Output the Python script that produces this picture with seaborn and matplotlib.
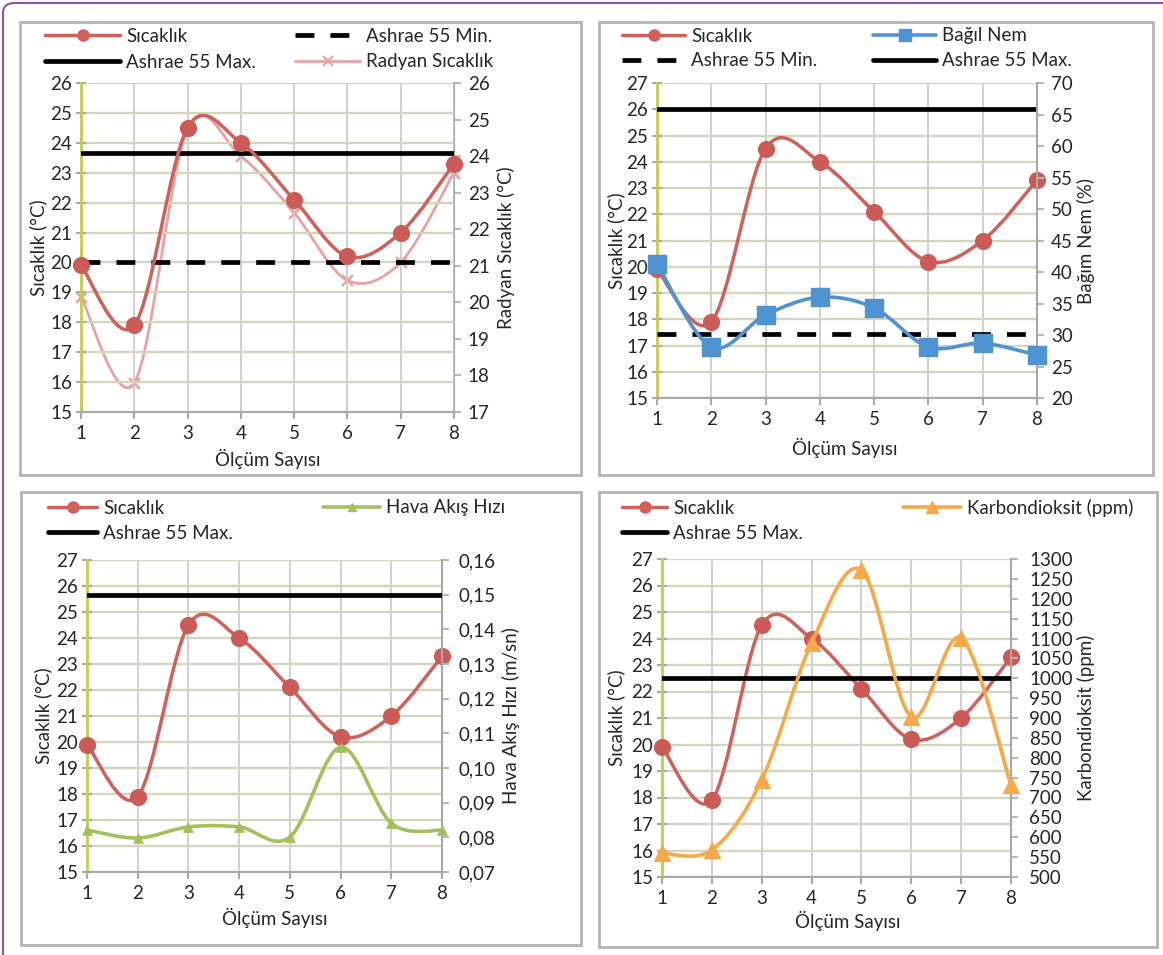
import numpy as np
import matplotlib.pyplot as plt
import seaborn as sns
from matplotlib.path import Path
from matplotlib.patches import PathPatch, FancyBboxPatch, Rectangle
from matplotlib.lines import Line2D
from matplotlib.legend import Legend
from matplotlib.ticker import FuncFormatter

# Data
olcum = [1, 2, 3, 4, 5, 6, 7, 8]
sicaklik = [19.9, 17.9, 24.5, 24.0, 22.1, 20.2, 21.0, 23.3]
radyan = [20.15, 17.8, 24.75, 24.0, 22.45, 20.6, 21.1, 23.55]
bagil_nem = [41.3, 28.1, 33.2, 36.0, 34.3, 28.1, 28.7, 26.8]
hava_akis = [0.0821, 0.0798, 0.0830, 0.0830, 0.0801, 0.1060, 0.0841, 0.0820]
co2 = [560, 568, 744, 1089, 1272, 903, 1101, 731]

# Ashrae 55 limits (as drawn)
p1_min, p1_max = 20.0, 23.65
p2_min, p2_max = 17.45, 26.0
p3_max = 0.15
p4_max = 1000

RED = '#d0605c'
PINK = '#e8a2a2'
BLUE = '#4f93d2'
GREEN = '#a3c05c'
ORANGE = '#f8a848'
FS = 13.5
FS_PX = FS * 100 / 72

sns.set_style('white')
plt.rcParams['font.family'] = ['Lato', 'DejaVu Sans']

W, H = 1163, 955
fig = plt.figure(figsize=(W / 100, H / 100), dpi=100)


def fx(px):
    return px / W


def fy(py):
    return 1 - py / H


def smooth(ax, x, y, color, lw, z=3):
    # Excel-like smoothed line through the data points
    pts = np.column_stack([np.asarray(x, float), np.asarray(y, float)])
    n = len(pts)
    verts, codes = [pts[0]], [Path.MOVETO]
    for i in range(n - 1):
        p0, p1 = pts[max(i - 1, 0)], pts[i]
        p2, p3 = pts[i + 1], pts[min(i + 2, n - 1)]
        verts += [p1 + (p2 - p0) / 6, p2 - (p3 - p1) / 6, p2]
        codes += [Path.CURVE4] * 3
    ax.add_patch(PathPatch(Path(verts, codes), fill=False, edgecolor=color,
                           lw=lw, zorder=z, capstyle='round', joinstyle='round'))


def make_axes(l, t, r, b):
    ax = fig.add_axes([fx(l), fy(b), fx(r - l), (b - t) / H])
    ax2 = ax.twinx()
    ax.set_facecolor('white')
    ax2.patch.set_visible(False)
    return ax, ax2


def style(ax, ax2, ylim, yticks, y2lim, y2ticks, y2label, lab):
    ax.set_xlim(1, 8)
    ax.set_xticks(olcum)
    ax.set_ylim(*ylim)
    ax.set_yticks(yticks)
    ax2.set_ylim(*y2lim)
    ax2.set_yticks(y2ticks)
    ax.grid(axis='x', color='#c8c8c8', lw=1.2)
    ax.grid(axis='y', color='#d2d6bc', lw=1.7)
    for s in ['top', 'right']:
        ax.spines[s].set_visible(False)
    for s in ['top', 'left', 'bottom']:
        ax2.spines[s].set_visible(False)
    ax.spines['left'].set_color('#c4cc4c')
    ax.spines['left'].set_linewidth(2)
    ax.spines['bottom'].set_color('#a8a8a8')
    ax.spines['bottom'].set_linewidth(1.5)
    ax2.spines['right'].set_color('#a8a8a8')
    ax2.spines['right'].set_linewidth(1.5)
    ax.tick_params(axis='y', direction='inout', length=7, width=1.5, color='#a8a8a8',
                   labelsize=FS, pad=3, left=True)
    ax.tick_params(axis='x', direction='out', length=5, width=1.5, color='#a8a8a8',
                   labelsize=FS, pad=4, bottom=True)
    ax2.tick_params(axis='y', direction='out', length=5, width=1.5, color='#b8b8b8',
                    labelsize=FS, pad=lab['rpad'], right=True)
    ax.set_xlabel('Ölçüm Sayısı', fontsize=FS)
    ax.set_ylabel('Sıcaklık (°C)', fontsize=FS)
    ax2.set_ylabel(y2label, fontsize=FS)
    ax.xaxis.set_label_coords(lab['x'][0], lab['x'][1])
    ax.yaxis.set_label_coords(lab['yl'], 0.5)
    ax2.yaxis.set_label_coords(lab['yr'], 0.5)


def entry(ax, handle, label, x_handle, x_text, y):
    pad = 0.3
    hl = (x_text - x_handle) / FS_PX - pad
    leg = Legend(ax, [handle], [label], loc='center left',
                 bbox_to_anchor=(fx(x_handle), fy(y)), bbox_transform=fig.transFigure,
                 frameon=False, borderpad=0, borderaxespad=0, handlelength=hl,
                 handletextpad=pad, fontsize=FS)
    ax.add_artist(leg)


def temp_line(ax):
    smooth(ax, olcum, sicaklik, RED, 2.5, z=4)
    sns.scatterplot(x=olcum, y=sicaklik, ax=ax, marker='o', s=130, color='#cc5a56',
                    edgecolor='#cc5a56', zorder=5, clip_on=False, legend=False)


def ashrae(ax, y, dashed=False):
    sns.lineplot(x=[olcum[0], olcum[-1]], y=[y, y], ax=ax, color='black', lw=3.4,
                 dashes=(4, 3.4) if dashed else '', zorder=3, legend=False)


h_temp = Line2D([], [], color=RED, lw=2.5, marker='o', markersize=8)
h_max = Line2D([], [], color='black', lw=3.4)
h_min = Line2D([], [], color='black', lw=3.4, dashes=(4, 3.4))
h_rad = Line2D([], [], color=PINK, lw=2, marker='x', markersize=7, mew=1.5)
h_nem = Line2D([], [], color=BLUE, lw=2.6, marker='s', markersize=9)
h_hava = Line2D([], [], color=GREEN, lw=2.6, marker='^', markersize=6)
h_co2 = Line2D([], [], color=ORANGE, lw=2.6, marker='^', markersize=8)

# ---------- Panel 1 ----------
ax, ax2 = make_axes(81, 83, 454, 412)
ashrae(ax, p1_min, dashed=True)
ashrae(ax, p1_max)
smooth(ax2, olcum, radyan, PINK, 2.0, z=3)
sns.scatterplot(x=olcum, y=radyan, ax=ax2, marker='x', s=60, color=PINK, linewidth=1.8,
                zorder=3, clip_on=False, legend=False)
temp_line(ax)
ax.set_zorder(ax2.get_zorder() + 1)
ax.patch.set_visible(False)
style(ax, ax2, (15, 26), range(15, 27), (17, 26), range(17, 27), 'Radyan Sıcaklık (°C)',
      dict(rpad=5, x=(0.5, -0.112), yl=-0.092, yr=1.115))
fig.patches.append(Rectangle((fx(81), fy(412)), fx(373), 329 / H, transform=fig.transFigure,
                             facecolor='white', edgecolor='none', zorder=-5))
entry(ax, h_temp, 'Sıcaklık', 45, 126, 36)
entry(ax, h_max, 'Ashrae 55 Max.', 45, 126, 62)
entry(ax, h_min, 'Ashrae 55 Min.', 295, 366, 36)
entry(ax, h_rad, 'Radyan Sıcaklık', 295, 366, 62)

# ---------- Panel 2 ----------
ax, ax2 = make_axes(657, 83, 1037, 398)
ashrae(ax, p2_min, dashed=True)
ashrae(ax, p2_max)
temp_line(ax)
smooth(ax2, olcum, bagil_nem, BLUE, 2.6, z=5)
sns.scatterplot(x=olcum, y=bagil_nem, ax=ax2, marker='s', s=160, color=BLUE, edgecolor=BLUE,
                zorder=6, clip_on=False, legend=False)
style(ax, ax2, (15, 27), range(15, 28), (20, 70), range(20, 71, 5), 'Bağım Nem (%)',
      dict(rpad=5, x=(0.495, -0.125), yl=-0.085, yr=1.105))
entry(ax, h_temp, 'Sıcaklık', 622, 691, 36)
entry(ax, h_min, 'Ashrae 55 Min.', 622, 691, 61)
entry(ax, h_nem, 'Bağıl Nem', 873, 942, 36)
entry(ax, h_max, 'Ashrae 55 Max.', 873, 942, 61)

# ---------- Panel 3 ----------
ax, ax2 = make_axes(87, 560, 442, 872)
ashrae(ax2, p3_max)
temp_line(ax)
smooth(ax2, olcum, hava_akis, GREEN, 2.6, z=5)
sns.scatterplot(x=olcum, y=hava_akis, ax=ax2, marker='^', s=50, color=GREEN, edgecolor=GREEN,
                zorder=6, clip_on=False, legend=False)
style(ax, ax2, (15, 27), range(15, 28), (0.07, 0.16), np.arange(7, 17) / 100,
      'Hava Akış Hızı (m/sn)', dict(rpad=7, x=(0.53, -0.115), yl=-0.099, yr=1.168))
ax2.yaxis.set_major_formatter(FuncFormatter(lambda v, p: f'{v:.2f}'.replace('.', ',')))
entry(ax, h_temp, 'Sıcaklık', 48, 103, 508)
entry(ax, h_max, 'Ashrae 55 Max.', 48, 103, 533)
entry(ax, h_hava, 'Hava Akış Hızı', 323, 386, 508)

# ---------- Panel 4 ----------
ax, ax2 = make_axes(662, 559, 1011, 877)
ashrae(ax2, p4_max)
temp_line(ax)
smooth(ax2, olcum, co2, ORANGE, 2.6, z=5)
sns.scatterplot(x=olcum, y=co2, ax=ax2, marker='^', s=130, color=ORANGE, edgecolor=ORANGE,
                zorder=6, clip_on=False, legend=False)
style(ax, ax2, (15, 27), range(15, 28), (500, 1300), range(500, 1301, 50),
      'Karbondioksit (ppm)', dict(rpad=8, x=(0.533, -0.105), yl=-0.107, yr=1.19))
entry(ax, h_temp, 'Sıcaklık', 622, 673, 508)
entry(ax, h_max, 'Ashrae 55 Max.', 622, 673, 533)
entry(ax, h_co2, 'Karbondioksit (ppm)', 903, 967, 508)

# ---------- frames ----------
for l, t, r, b in [(20, 22, 581, 475), (599, 22, 1153, 475), (21, 492, 581, 945), (599, 492, 1157, 947)]:
    fig.add_artist(Rectangle((fx(l), fy(b)), fx(r - l), (b - t) / H, transform=fig.transFigure,
                             fill=False, edgecolor='#b4b4b4', lw=2))
fig.add_artist(FancyBboxPatch((fx(3), fy(1100)), fx(1300), 1097 / H, transform=fig.transFigure,
                              boxstyle='round,pad=0,rounding_size=0.01', fill=False,
                              edgecolor='#8e54a8', lw=1.5))

fig.savefig('out.png', dpi=100)
